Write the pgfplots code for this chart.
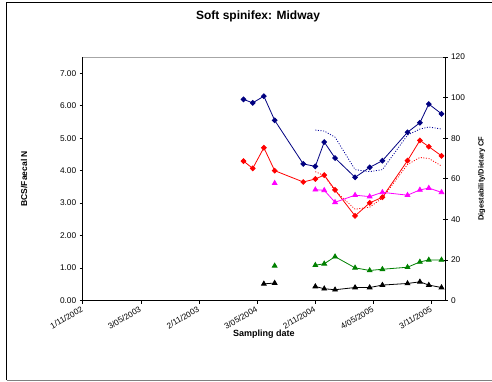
\documentclass[border=0pt]{standalone}
\usepackage{fontspec}
\setmainfont{Liberation Sans}
\usepackage{pgfplots}
\pgfplotsset{compat=1.18}
\definecolor{navy}{RGB}{0,0,128}
\definecolor{exgreen}{RGB}{0,128,0}
\definecolor{exmag}{RGB}{255,0,255}
\begin{document}
\begin{tikzpicture}
\useasboundingbox (0pt,0pt) rectangle (492pt,381pt);
\draw[black, line width=1.2pt] (6.5pt,0.8pt) -- (6.5pt,378.3pt) -- (492pt,378.3pt);
\draw[gray, line width=0.8pt] (6.5pt,1pt) -- (492pt,1pt);
\begin{axis}[
  at={(82.7pt,80.5pt)}, anchor=south west,
  scale only axis, width=362.3pt, height=243.5pt,
  xmin=0, xmax=1140, ymin=0, ymax=7.5,
  axis x line*=bottom, axis y line*=left,
  axis line style={-, line width=0.8pt},
  xtick={0,183,366,549,732,915,1098},
  xticklabels={1/11/2002,3/05/2003,2/11/2003,3/05/2004,2/11/2004,4/05/2005,3/11/2005},
  xticklabel style={rotate=30, anchor=north east, font=\fontsize{8.2}{9}\selectfont, inner sep=1pt, xshift=-2pt},
  ytick={0,1,2,3,4,5,6,7},
  yticklabel style={/pgf/number format/.cd, fixed, fixed zerofill, precision=2, /tikz/.cd, font=\fontsize{8.3}{9}\selectfont},
  /pgf/number format/assume math mode=true,
  tick style={black, line width=0.6pt},
  tick align=outside, major tick length=3pt,
  ylabel={BCS/Faecal N},
  ylabel style={at={(axis description cs:-0.162,0.5)}, anchor=center, font=\bfseries\fontsize{8.5}{10}\selectfont},
  xlabel={Sampling date},
  xlabel style={at={(axis description cs:0.5,-0.138)}, anchor=center, font=\bfseries\fontsize{9}{11}\selectfont},
  title={Soft spinifex: Midway},
  title style={at={(axis description cs:0.484,1.142)}, anchor=center, font=\bfseries\fontsize{12}{14}\selectfont},
]
\draw[gray!70, line width=0.6pt] (rel axis cs:0,1) -- (rel axis cs:1,1);
\end{axis}
\begin{axis}[
  at={(82.7pt,80.5pt)}, anchor=south west,
  scale only axis, width=362.3pt, height=243.5pt,
  xmin=0, xmax=1140, ymin=0, ymax=120,
  axis x line=none, axis y line*=right,
  axis line style={-, line width=0.8pt},
  ytick={0,20,40,60,80,100,120},
  yticklabel style={font=\fontsize{8.3}{9}\selectfont},
  /pgf/number format/assume math mode=true,
  tick style={black, line width=0.6pt},
  tick align=center, major tick length=5pt,
  ylabel={Digestability/Dietary CF},
  ylabel style={at={(axis description cs:1.101,0.5)}, anchor=center, font=\bfseries\fontsize{7.5}{9}\selectfont},
  unbounded coords=jump,
]
% dotted series
\addplot[navy!80!blue, line width=0.8pt, dash pattern=on 1pt off 1.6pt, no marks] coordinates {
(732,84.0)(760,83.5)(794,80.5)(857,64.5)(903,63.5)(943,64.5)(1022,81.5)(1061,84.5)(1089,85.5)(1129,84.5)};
\addplot[red, line width=0.8pt, dash pattern=on 1pt off 1.6pt, no marks] coordinates {
(732,63.5)(760,61.5)(794,54)(857,45)(903,46)(943,50.5)(1022,67)(1061,70.5)(1089,70)(1129,66.3)};
% solid series
\addplot[navy, line width=0.8pt, mark=square*, mark size=1.7pt, mark options={rotate=45, solid}] coordinates {
(506,99.1)(535,97.4)(570,100.7)(604,88.8)(694,67.3)(732,66.1)(760,78.1)(794,70.2)(857,60.7)(903,65.6)(943,68.9)(1022,82.9)(1061,87.6)(1089,96.8)(1129,92.0)};
\addplot[red, line width=0.8pt, mark=square*, mark size=1.7pt, mark options={rotate=45, solid}] coordinates {
(506,68.7)(535,65.1)(570,75.3)(604,64.0)(694,58.4)(732,59.9)(760,61.8)(794,54.5)(857,41.7)(903,48.1)(943,50.9)(1022,68.9)(1061,78.9)(1089,75.8)(1129,71.3)};
\addplot[exmag, line width=0.8pt, mark=triangle*, mark size=2.7pt] coordinates {
(604,57.8)(694,nan)(732,54.6)(760,54.3)(794,48.4)(857,51.9)(903,51.2)(943,53.3)(1022,51.9)(1061,54.5)(1089,55.4)(1129,53.3)};
\addplot[exgreen, line width=0.8pt, mark=triangle*, mark size=2.7pt] coordinates {
(604,17.1)(694,nan)(732,17.4)(760,18.1)(794,21.6)(857,16.1)(903,14.8)(943,15.4)(1022,16.4)(1061,19.0)(1089,20.0)(1129,20.0)};
\addplot[black, line width=0.8pt, mark=triangle*, mark size=2.7pt] coordinates {
(570,8.2)(604,8.6)(694,nan)(732,6.9)(760,5.8)(794,5.3)(857,6.4)(903,6.4)(943,7.6)(1022,8.4)(1061,9.2)(1089,7.6)(1129,6.4)};
\end{axis}
\end{tikzpicture}
\end{document}
